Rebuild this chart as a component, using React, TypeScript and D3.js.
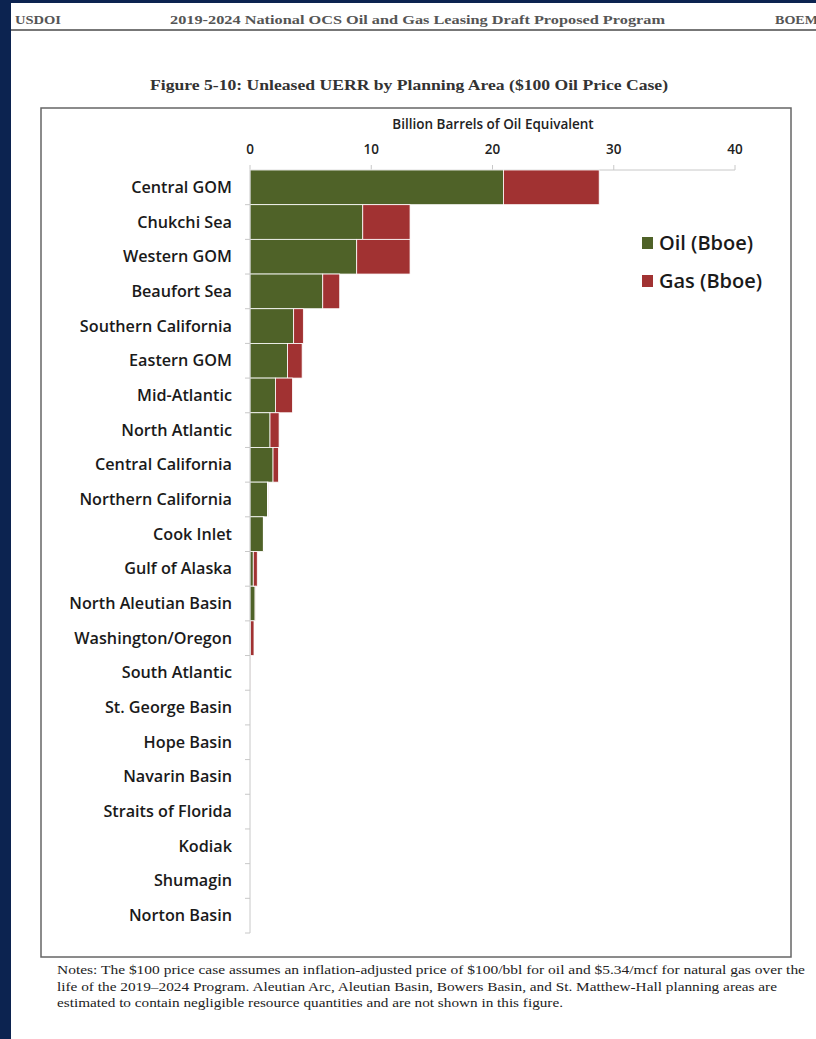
import React from "react";
import * as d3 from "d3";

const categories = [
  "Central GOM", "Chukchi Sea", "Western GOM", "Beaufort Sea", "Southern California",
  "Eastern GOM", "Mid-Atlantic", "North Atlantic", "Central California", "Northern California",
  "Cook Inlet", "Gulf of Alaska", "North Aleutian Basin", "Washington/Oregon", "South Atlantic",
  "St. George Basin", "Hope Basin", "Navarin Basin", "Straits of Florida", "Kodiak",
  "Shumagin", "Norton Basin",
];
const oilValues = [20.9, 9.3, 8.8, 6.0, 3.6, 3.1, 2.1, 1.65, 1.9, 1.45, 1.1, 0.27, 0.42, 0.05, 0.05, 0, 0, 0, 0, 0, 0, 0];
const gasValues = [7.9, 3.9, 4.4, 1.4, 0.8, 1.2, 1.4, 0.75, 0.45, 0.05, 0.05, 0.33, 0.03, 0.28, 0.02, 0, 0, 0, 0, 0, 0, 0];
const xTicks = [0, 10, 20, 30, 40];
const seriesNames = ["Oil (Bboe)", "Gas (Bboe)"];
const seriesColors = ["#4f6228", "#a13232"];

const noteLines = [
  "Notes:  The $100 price case assumes an inflation-adjusted price of $100/bbl for oil and $5.34/mcf for natural gas over the",
  "life of the 2019\u20132024 Program.  Aleutian Arc, Aleutian Basin, Bowers Basin, and St. Matthew-Hall planning areas are",
  "estimated to contain negligible resource quantities and are not shown in this figure.",
];
const noteWidths = [748, 720, 506];

export default function App() {
  const W = 816, H = 1039;
  const x = d3.scaleLinear().domain([0, 40]).range([250, 735]);
  const y = d3.scaleBand<string>().domain(categories).range([170, 933]).padding(0);
  const stackData = categories.map((c, i) => ({ c, oil: oilValues[i], gas: gasValues[i] }));
  const stack = d3.stack<any>().keys(["oil", "gas"])(stackData);
  const sans = "'Open Sans', 'Noto Sans', sans-serif";
  const serif = "'Liberation Serif', 'DejaVu Serif', serif";
  const axisCol = "#c8c8c8";

  return (
    <svg width={W} height={H} style={{ position: "absolute", left: 0, top: 0 }}>
      <rect x={0} y={0} width={W} height={H} fill="#0c2350" />
      <rect x={11} y={3} width={W - 11} height={H - 3} fill="#ffffff" />

      {/* header */}
      <text x={15} y={24} fontFamily={serif} fontSize={12} fontWeight="bold" fill="#555" textLength={46} lengthAdjust="spacingAndGlyphs">USDOI</text>
      <text x={170} y={24} fontFamily={serif} fontSize={13} fontWeight="bold" fill="#555" textLength={495} lengthAdjust="spacingAndGlyphs">2019-2024 National OCS Oil and Gas Leasing Draft Proposed Program</text>
      <text x={775} y={24} fontFamily={serif} fontSize={12} fontWeight="bold" fill="#555" textLength={43} lengthAdjust="spacingAndGlyphs">BOEM</text>
      <line x1={11} x2={W} y1={30} y2={30} stroke="#777" strokeWidth={2} />

      {/* figure title */}
      <text x={150} y={90} fontFamily={serif} fontSize={14} fontWeight="bold" fill="#333" textLength={518} lengthAdjust="spacingAndGlyphs">Figure 5-10:  Unleased UERR by Planning Area ($100 Oil Price Case)</text>

      {/* chart box */}
      <rect x={41} y={108} width={750} height={849} fill="#fff" stroke="#666" strokeWidth={1.5} />

      {/* axis title */}
      <text x={493} y={129} textAnchor="middle" fontFamily={sans} fontSize={13.5} fontWeight={600} fill="#222">Billion Barrels of Oil Equivalent</text>

      {/* x axis */}
      <line x1={x(0)} x2={x(40)} y1={170} y2={170} stroke={axisCol} strokeWidth={1} />
      {xTicks.map((t) => (
        <g key={t}>
          <line x1={x(t)} x2={x(t)} y1={165} y2={170} stroke={axisCol} />
          <text x={x(t)} y={154} textAnchor="middle" fontFamily={sans} fontSize={13.5} fontWeight={600} fill="#222">{t}</text>
        </g>
      ))}

      {/* bars */}
      {stack.map((s, si) => (
        <g key={si}>
          {s.map((d, i) => (
            d[1] - d[0] > 0 ? (
              <rect key={i} x={x(d[0])} y={y(categories[i])!} width={x(d[1]) - x(d[0])} height={y.bandwidth()}
                fill={seriesColors[si]} stroke="#ffffff" strokeWidth={0.8} />
            ) : null
          ))}
        </g>
      ))}

      {/* y axis */}
      <line x1={250} x2={250} y1={170} y2={933} stroke={axisCol} strokeWidth={1} />
      {categories.map((c, i) => (
        <line key={"t" + i} x1={245} x2={250} y1={y(c)! + y.bandwidth()} y2={y(c)! + y.bandwidth()} stroke={axisCol} />
      ))}
      {categories.map((c) => (
        <text key={c} x={232} y={y(c)! + y.bandwidth() / 2 + 5.5} textAnchor="end" fontFamily={sans} fontSize={16.2} fontWeight={600} fill="#1a1a1a">{c}</text>
      ))}

      {/* legend */}
      {seriesNames.map((n, i) => (
        <g key={n}>
          <rect x={642} y={237 + i * 38} width={11} height={12} fill={seriesColors[i]} />
          <text x={659} y={250 + i * 38} fontFamily={sans} fontSize={20} fontWeight={600} fill="#1a1a1a">{n}</text>
        </g>
      ))}

      {/* notes */}
      {noteLines.map((l, i) => (
        <text key={i} x={57} y={974 + i * 16.5} fontFamily={serif} fontSize={11.5} fill="#222" textLength={noteWidths[i]} lengthAdjust="spacingAndGlyphs">{l}</text>
      ))}
    </svg>
  );
}
